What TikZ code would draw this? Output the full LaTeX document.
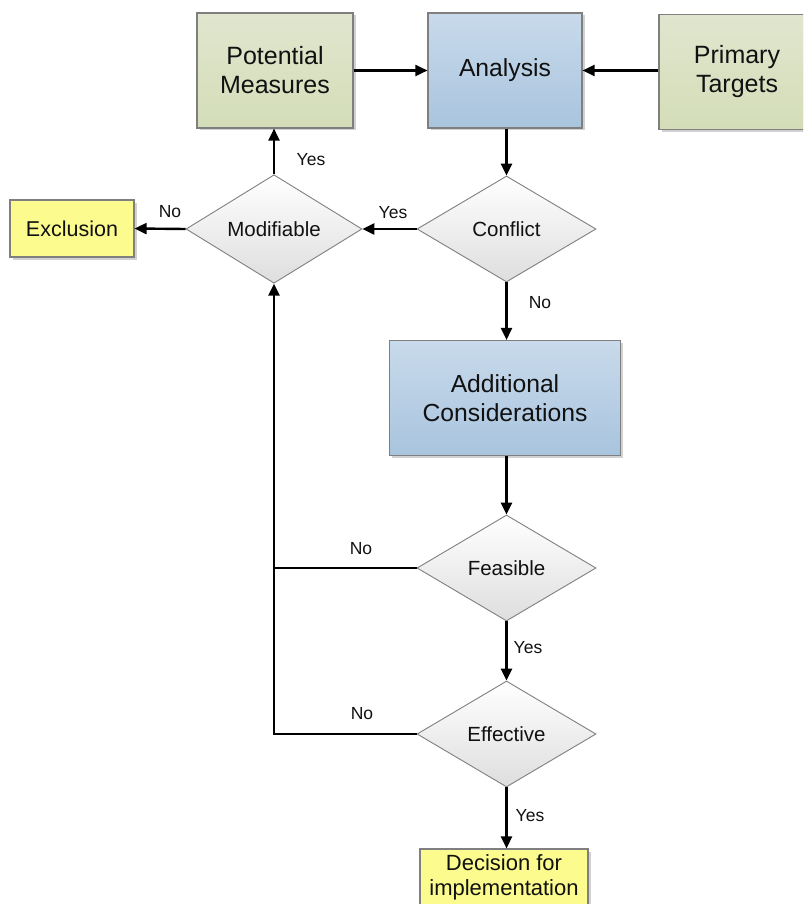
\documentclass[tikz,border=0pt]{standalone}
\usepackage{fontspec}
\setmainfont{Liberation Sans}
\usetikzlibrary{shapes.geometric,arrows.meta,shadows}
\definecolor{greentop}{HTML}{E0E6CE}
\definecolor{greenbot}{HTML}{D4DDB8}
\definecolor{bluetop}{HTML}{C8DAEB}
\definecolor{bluebot}{HTML}{A9C4DE}
\definecolor{yellowbox}{HTML}{FBFB8E}
\definecolor{edgegray}{HTML}{7F7F7F}
\definecolor{ink}{HTML}{111111}
\tikzset{
  boxbase/.style={rectangle, draw=edgegray, line width=1.1pt, inner sep=0pt,
    align=center, text=ink,
    drop shadow={shadow xshift=2.5pt, shadow yshift=-2.5pt, fill=black, opacity=0.18}},
  greenbox/.style={boxbase, top color=greentop, bottom color=greenbot,
    minimum width=156pt, minimum height=115pt,
    font=\fontsize{25}{29}\selectfont},
  bluebox/.style={boxbase, top color=bluetop, bottom color=bluebot,
    minimum height=115pt, font=\fontsize{24.7}{28.5}\selectfont},
  yellowbox/.style={boxbase, fill=yellowbox, minimum height=57pt,
    font=\fontsize{21.5}{25.5}\selectfont},
  decision/.style={diamond, draw=edgegray, line width=0.9pt, inner sep=0pt,
    top color=white, bottom color=black!13, text=ink,
    minimum width=179pt, minimum height=106pt,
    font=\fontsize{20.5}{24}\selectfont},
  flow/.style={line width=2.4pt, draw=black, -{Triangle[length=12pt,width=11pt]}},
  plainflow/.style={line width=2.4pt, draw=black},
  lbl/.style={font=\fontsize{17.5}{20}\selectfont, text=ink, inner sep=0pt},
}
\begin{document}
\begin{tikzpicture}[x=1pt, y=-1pt]
\useasboundingbox (0,0) rectangle (803,904);
\clip (0,0) rectangle (803,904);

% boxes
\node[greenbox] (pm) at (275,70.5) {Potential\\Measures};
\node[bluebox, minimum width=154pt] (ana) at (505,70.5) {Analysis};
\node[greenbox] (pt) at (737,72) {Primary\\Targets};
\node[bluebox, minimum width=231pt] (add) at (505,398) {Additional\\Considerations};
\node[yellowbox, minimum width=124pt] (exc) at (72,228.5) {Exclusion};
\node[yellowbox, minimum width=168pt, font=\fontsize{22}{25.5}\selectfont] (dec) at (504,877.5) {Decision for\\implementation};

% decisions
\node[decision] (con) at (506.5,229) {Conflict};
\node[decision, minimum width=176pt] (mod) at (274,229) {Modifiable};
\node[decision] (fea) at (506.5,568) {Feasible};
\node[decision] (eff) at (506.5,734) {Effective};

% connectors
\draw[flow] (pm.east) -- (ana.west);
\draw[flow] (pt.west |- ana.east) -- (ana.east);
\draw[flow] (ana.south -| con.north) -- (con.north);
\draw[flow] (con.west) -- (mod.east);
\draw[flow] (mod.west) -- (exc.east);
\draw[flow] (mod.north) -- (pm.south -| mod.north);
\draw[flow] (con.south) -- (add.north -| con.south);
\draw[flow] (add.south -| fea.north) -- (fea.north);
\draw[flow] (fea.south) -- (eff.north);
\draw[flow] (eff.south) -- (dec.north -| eff.south);
\draw[plainflow] (fea.west) -- (fea.west -| mod.south);
\draw[flow] (eff.west) -| (mod.south);

% labels
\node[lbl] (l1) at (393,213) {Yes};
\node[lbl] (l2) at (170,212) {No};
\node[lbl] (l3) at (311,160) {Yes};
\node[lbl] (l4) at (540,303) {No};
\node[lbl] (l5) at (361,549) {No};
\node[lbl] (l6) at (528,648) {Yes};
\node[lbl] (l7) at (362,714) {No};
\node[lbl] (l8) at (530,816) {Yes};
\end{tikzpicture}
\end{document}
